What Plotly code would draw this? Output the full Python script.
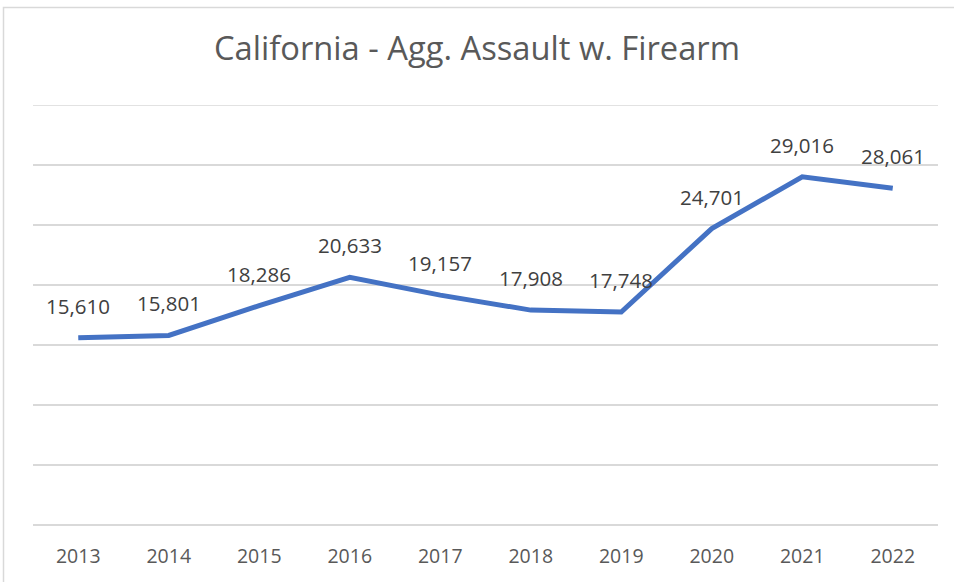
import plotly.graph_objects as go

years = ["2013", "2014", "2015", "2016", "2017", "2018", "2019", "2020", "2021", "2022"]
assaults = [15610, 15801, 18286, 20633, 19157, 17908, 17748, 24701, 29016, 28061]
title_text = "California - Agg. Assault w. Firearm"
y_max = 35000

FONT = "Open Sans"
W, H = 954, 582
L, R, T, B = 33, 16, 105, 57
pw, ph = W - L - R, H - T - B

def px_x(px):
    return (px - L) / pw

def px_y(py):
    return (H - B - py) / ph

fig = go.Figure()
fig.add_trace(go.Scatter(
    x=years, y=assaults, mode="lines",
    line=dict(color="#4472C4", width=5),
    hoverinfo="x+y",
))

for i, v in enumerate(assaults):
    fig.add_annotation(
        x=i, y=v, xref="x", yref="y", text=f"{v:,}", showarrow=False, yshift=32,
        font=dict(family=FONT, size=20.5, color="#404040"),
    )

# chart border
fig.add_shape(
    type="rect", xref="paper", yref="paper",
    x0=px_x(3.5), x1=px_x(970), y0=px_y(600), y1=px_y(7.5),
    line=dict(color="#D9D9D9", width=1.5), fillcolor="rgba(0,0,0,0)", layer="below",
)
# top gridline (at range end)
fig.add_shape(
    type="line", xref="paper", yref="y", x0=0, x1=1, y0=y_max, y1=y_max,
    line=dict(color="#D9D9D9", width=1.5), layer="below",
)

fig.update_layout(
    width=W, height=H,
    margin=dict(l=L, r=R, t=T, b=B, pad=0, autoexpand=False),
    paper_bgcolor="white", plot_bgcolor="white",
    showlegend=False,
    title=dict(text=title_text, x=0.5, xanchor="center", y=1 - 49 / H, yanchor="middle",
               font=dict(family=FONT, size=32.7, color="#595959")),
    xaxis=dict(
        type="category", range=[-0.5, len(years) - 0.5], autorange=False,
        showgrid=False, zeroline=False, showline=False, automargin=False,
        ticks="", tickfont=dict(family=FONT, size=19.5, color="#595959"),
        ticklabelstandoff=17, fixedrange=True,
    ),
    yaxis=dict(
        range=[0, y_max], autorange=False, dtick=5000, showticklabels=False,
        showgrid=True, gridcolor="#D9D9D9", gridwidth=1.5, automargin=False,
        zeroline=True, zerolinecolor="#D9D9D9", zerolinewidth=1.5,
        showline=False, ticks="", fixedrange=True,
    ),
)

fig.write_html(
    "out.html",
    config={"displayModeBar": False},
    post_script="document.body.style.margin='0';document.body.style.overflow='hidden';",
)
